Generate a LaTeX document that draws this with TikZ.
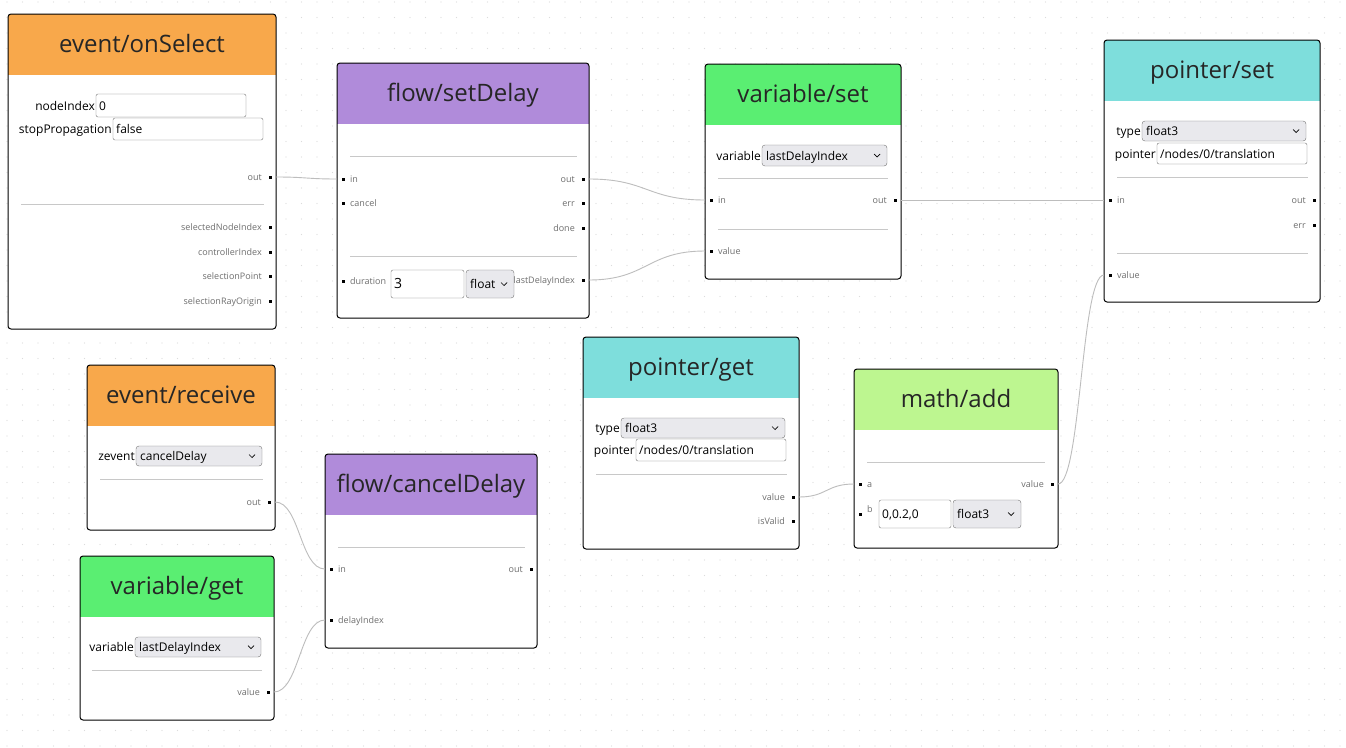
\documentclass[tikz,border=0pt]{standalone}
\usepackage{fontspec}
\setmainfont{Open Sans}
\usepackage{tikz}
\usetikzlibrary{positioning}

\definecolor{evtorange}{HTML}{F8A84B}
\definecolor{flowpurple}{HTML}{B08BDA}
\definecolor{vargreen}{HTML}{5AEE72}
\definecolor{ptrcyan}{HTML}{7EDEDC}
\definecolor{mathgreen}{HTML}{BDF690}
\definecolor{portgray}{HTML}{6E6E6E}
\definecolor{linkgray}{HTML}{BDBDBD}
\definecolor{sepgray}{HTML}{C8C8C8}
\definecolor{dropfill}{HTML}{E9E9ED}
\definecolor{fieldedge}{HTML}{767676}
\definecolor{dotgray}{HTML}{DCDCDC}

\tikzset{
  title/.style={font=\fontsize{24}{28}\selectfont, text=black!85, inner sep=0pt, anchor=base},
  portlabel/.style={font=\fontsize{9}{10}\selectfont, text=portgray, inner sep=0pt},
  fieldlabel/.style={font=\fontsize{12}{14}\selectfont, inner sep=0pt, anchor=base east},
  fieldtext/.style={font=\fontsize{12}{14}\selectfont, inner sep=0pt},
  bigtext/.style={font=\fontsize{14}{16}\selectfont, inner sep=0pt},
  port/.style={fill=black, minimum size=3pt, inner sep=0pt},
  link/.style={draw=linkgray, line width=0.9pt},
  sep/.style={draw=sepgray, line width=0.9pt},
}

% node box with coloured header
\newcommand\graphnode[7]{%
  \begin{scope}
    \clip[rounded corners=3pt] (#2,#3) rectangle (#4,#5);
    \fill[white] (#2,#3) rectangle (#4,#5);
    \fill[#6] (#2,#3) rectangle (#4,#3+61);
  \end{scope}
  \draw[line width=1pt, rounded corners=3pt] (#2,#3) rectangle (#4,#5);
  \node[title] (#1) at ({(#2+#4)/2},#3+38) {#7};
}
% ports: name, box edge x, y, label
\newcommand\inport[4]{%
  \coordinate (#1) at (#2,#3);
  \node[port] (#1-m) at (#2+6,#3) {};
  \node[portlabel, anchor=base west] (#1-l) at (#2+13,#3+3) {#4};
}
\newcommand\outport[4]{%
  \coordinate (#1) at (#2,#3);
  \node[port] (#1-m) at (#2-6,#3) {};
  \node[portlabel, anchor=base east] (#1-l) at (#2-14,#3+3) {#4};
}
% input fields: [style] name, x1, y1, x2, y2, text
\newcommand\fieldbox[7][fieldtext]{%
  \draw[fieldedge, fill=white, rounded corners=2pt] (#3,#4) rectangle (#5,#6);
  \node[#1, anchor=base west] (#2) at (#3+3,{(#4+#6)/2+4.5}) {#7};
}
\newcommand\dropbox[7][fieldtext]{%
  \draw[fieldedge, fill=dropfill, rounded corners=3pt] (#3,#4) rectangle (#5,#6);
  \node[#1, anchor=base west] (#2) at (#3+4,{(#4+#6)/2+4.5}) {#7};
  \draw[line width=0.7pt] (#5-13,{(#4+#6)/2-1.5}) -- (#5-10,{(#4+#6)/2+1.5}) -- (#5-7,{(#4+#6)/2-1.5});
}

\begin{document}
\begin{tikzpicture}[x=1pt, y=-1pt]
  \useasboundingbox (0,0) rectangle (1346,747);
  \fill[white] (0,0) rectangle (1346,747);
  % background dots
  \foreach \gx in {7,22.5,...,1346}
    \foreach \gy in {2,17.5,...,747}
      \fill[dotgray] (\gx,\gy) circle[radius=0.6pt];

  % event/onSelect
  \graphnode{onselect}{8}{14}{276}{329}{evtorange}{event/onSelect}
  \node[fieldlabel] (os-idx-l) at (95,110.5) {nodeIndex};
  \fieldbox{os-idx}{96}{94}{246}{117}{0}
  \node[fieldlabel] (os-stop-l) at (112,133.5) {stopPropagation};
  \fieldbox{os-stop}{113}{118}{263}{140}{false}
  \outport{os-out}{276}{177}{out}
  \draw[sep] (21,204) -- (264,204);
  \outport{os-sel}{276}{227}{selectedNodeIndex}
  \outport{os-ctrl}{276}{252}{controllerIndex}
  \outport{os-pt}{276}{276}{selectionPoint}
  \outport{os-ray}{276}{301}{selectionRayOrigin}

  % flow/setDelay
  \graphnode{setdelay}{337}{63}{589}{318}{flowpurple}{flow/setDelay}
  \draw[sep] (350,156) -- (577,156);
  \inport{sd-in}{337}{179}{in}
  \inport{sd-cancel}{337}{203}{cancel}
  \outport{sd-out}{589}{179}{out}
  \outport{sd-err}{589}{203}{err}
  \outport{sd-done}{589}{228}{done}
  \draw[sep] (350,256) -- (577,256);
  \inport{sd-dur}{337}{281}{duration}
  \fieldbox[bigtext]{sd-dur-f}{391}{270}{464}{298}{3}
  \dropbox{sd-type}{466}{270}{514}{298}{float}
  \outport{sd-last}{589}{280}{lastDelayIndex}

  % variable/set
  \graphnode{varset}{705}{64}{901}{279}{vargreen}{variable/set}
  \node[fieldlabel] (vs-var-l) at (761,160) {variable};
  \dropbox{vs-var}{762}{145}{887}{166}{lastDelayIndex}
  \draw[sep] (718,178) -- (888,178);
  \inport{vs-in}{705}{200}{in}
  \outport{vs-out}{901}{200}{out}
  \draw[sep] (718,229) -- (888,229);
  \inport{vs-value}{705}{251}{value}

  % pointer/set
  \graphnode{ptrset}{1104}{40}{1320}{302}{ptrcyan}{pointer/set}
  \node[fieldlabel] (ps-type-l) at (1141,135.5) {type};
  \dropbox{ps-type}{1142}{121}{1306}{141}{float3}
  \node[fieldlabel] (ps-ptr-l) at (1156,158) {pointer};
  \fieldbox{ps-ptr}{1157}{143}{1307}{164}{/nodes/0/translation}
  \draw[sep] (1117,177) -- (1308,177);
  \inport{ps-in}{1104}{200}{in}
  \outport{ps-out}{1320}{200}{out}
  \outport{ps-err}{1320}{225}{err}
  \draw[sep] (1117,253) -- (1308,253);
  \inport{ps-value}{1104}{275}{value}

  % event/receive
  \graphnode{evtrecv}{87}{365}{275}{530}{evtorange}{event/receive}
  \node[fieldlabel] (er-evt-l) at (135,460.5) {zevent};
  \dropbox{er-evt}{136}{446}{262}{466}{cancelDelay}
  \draw[sep] (100,479) -- (263,479);
  \outport{er-out}{275}{502}{out}

  % variable/get
  \graphnode{varget}{80}{556}{274}{720}{vargreen}{variable/get}
  \node[fieldlabel] (vg-var-l) at (134,651.5) {variable};
  \dropbox{vg-var}{135}{637}{261}{657}{lastDelayIndex}
  \draw[sep] (92,670) -- (262,670);
  \outport{vg-value}{274}{692}{value}

  % flow/cancelDelay
  \graphnode{canceldelay}{325}{454}{537}{648}{flowpurple}{flow/cancelDelay}
  \draw[sep] (338,547) -- (525,547);
  \inport{cd-in}{325}{569}{in}
  \outport{cd-out}{537}{569}{out}
  \inport{cd-index}{325}{620}{delayIndex}

  % pointer/get
  \graphnode{ptrget}{583}{337}{799}{549}{ptrcyan}{pointer/get}
  \node[fieldlabel] (pg-type-l) at (620,432.5) {type};
  \dropbox{pg-type}{621}{418}{785}{438}{float3}
  \node[fieldlabel] (pg-ptr-l) at (635,454.5) {pointer};
  \fieldbox{pg-ptr}{636}{439}{786}{461}{/nodes/0/translation}
  \draw[sep] (596,474) -- (787,474);
  \outport{pg-value}{799}{497}{value}
  \outport{pg-valid}{799}{521}{isValid}

  % math/add
  \graphnode{mathadd}{854}{369}{1058}{548}{mathgreen}{math/add}
  \draw[sep] (867,462) -- (1045,462);
  \inport{ma-a}{854}{484}{a}
  \outport{ma-value}{1058}{484}{value}
  \inport{ma-b}{854}{514}{\raisebox{5pt}{b}}
  \fieldbox{ma-b-f}{879}{500}{951}{528}{0,0.2,0}
  \dropbox{ma-type}{953}{500}{1021}{528}{float3}

  % links
  \draw[link] (os-out) .. controls +(30,0) and +(-30,0) .. (sd-in);
  \draw[link] (sd-out) .. controls +(58,0) and +(-58,0) .. (vs-in);
  \draw[link] (sd-last) .. controls +(58,0) and +(-58,0) .. (vs-value);
  \draw[link] (vs-out) -- (ps-in);
  \draw[link] (er-out) .. controls +(25,0) and +(-25,0) .. (cd-in);
  \draw[link] (vg-value) .. controls +(25,0) and +(-25,0) .. (cd-index);
  \draw[link] (pg-value) .. controls +(28,0) and +(-28,0) .. (ma-a);
  \draw[link] (ma-value) .. controls +(23,0) and +(-23,0) .. (ps-value);
\end{tikzpicture}
\end{document}
